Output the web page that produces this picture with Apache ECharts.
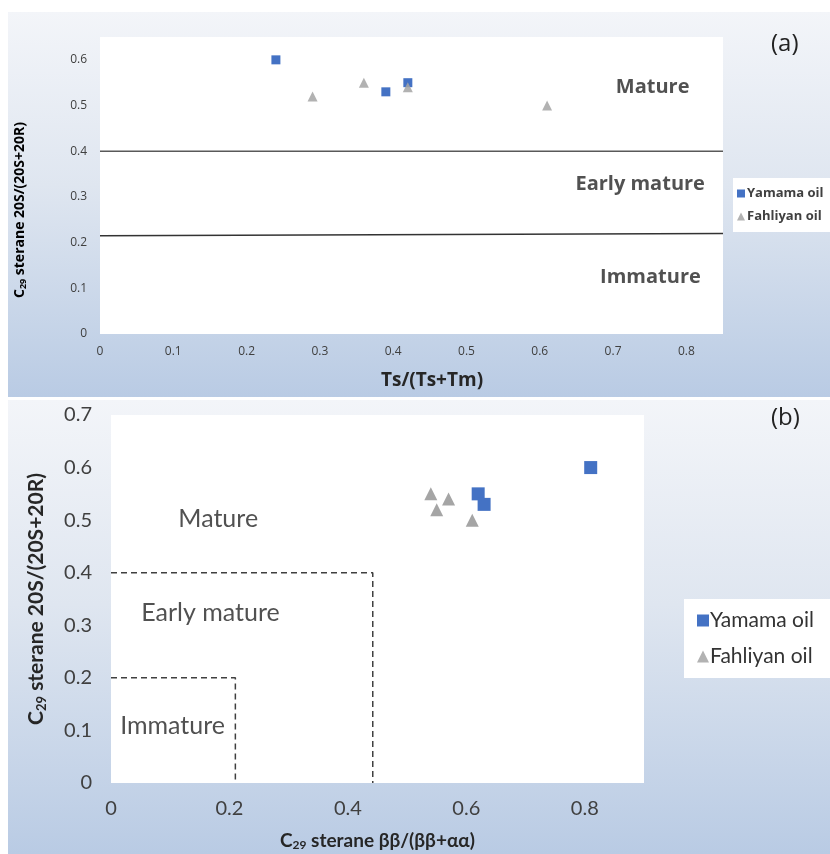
<!DOCTYPE html>
<html>
<head>
<meta charset="utf-8">
<script src="https://cdn.jsdelivr.net/npm/echarts@6/dist/echarts.min.js"></script>
<style>
  html, body { margin: 0; padding: 0; background: #ffffff; }
  #chart { width: 830px; height: 854px; }
</style>
</head>
<body>
<div id="chart"></div>
<script>
// ---- Panel (a): C29 sterane 20S/(20S+20R) vs Ts/(Ts+Tm) ----
const yamamaA = [[0.24, 0.60], [0.39, 0.53], [0.42, 0.55]];
const fahliyanA = [[0.29, 0.52], [0.36, 0.55], [0.42, 0.54], [0.61, 0.50]];
// maturity boundaries (solid lines)
const matureLineA = [[0, 0.40], [0.85, 0.40]];
const earlyLineA = [[0, 0.215], [0.85, 0.22]];
const zoneLabelsA = [
  { name: 'Mature', value: [0.754, 0.54] },
  { name: 'Early mature', value: [0.737, 0.328] },
  { name: 'Immature', value: [0.751, 0.125] }
];

// ---- Panel (b): C29 sterane 20S/(20S+20R) vs ββ/(ββ+αα) ----
const yamamaB = [[0.81, 0.60], [0.62, 0.55], [0.63, 0.53]];
const fahliyanB = [[0.54, 0.55], [0.57, 0.54], [0.55, 0.52], [0.61, 0.50]];
// maturity boundaries (dashed steps)
const earlyBoxB = [[0, 0.40], [0.442, 0.40], [0.442, 0]];
const immatureBoxB = [[0, 0.20], [0.21, 0.20], [0.21, 0]];
const zoneLabelsB = [
  { name: 'Mature', value: [0.181, 0.502] },
  { name: 'Early mature', value: [0.168, 0.324] },
  { name: 'Immature', value: [0.104, 0.108] }
];

const seriesNames = ['Yamama oil', 'Fahliyan oil'];
const BLUE = '#4472C4';
const GRAY = '#A5A5A5';
const INK = '#262626';

const chart = echarts.init(document.getElementById('chart'), null, { renderer: 'canvas' });

const panelFill = {
  type: 'linear', x: 0, y: 0, x2: 0, y2: 1,
  colorStops: [
    { offset: 0, color: '#f3f5f9' },
    { offset: 0.45, color: '#dfe6f0' },
    { offset: 1, color: '#b9cbe4' }
  ]
};

const fontA = 'Open Sans, sans-serif';
const fontB = 'Lato, sans-serif';

function zoneSeries(data, xi, yi, style) {
  return {
    type: 'scatter', xAxisIndex: xi, yAxisIndex: yi,
    symbolSize: 0, silent: true, data: data, z: 1,
    label: Object.assign({ show: true, position: 'inside', formatter: p => p.name }, style)
  };
}

const c29Rich = (font, big, small, drop) => ({
  b: { fontFamily: font, fontWeight: 'bold', fontSize: big, color: INK },
  s: { fontFamily: font, fontWeight: 'bold', fontSize: small, color: INK, verticalAlign: 'bottom', padding: [drop, 0, 0, 0] }
});

chart.setOption({
  animation: false,
  graphic: [
    { type: 'rect', z: -10, shape: { x: 8, y: 12, width: 822, height: 385 }, style: { fill: panelFill } },
    { type: 'rect', z: -10, shape: { x: 8, y: 400, width: 822, height: 454 }, style: { fill: panelFill } },
    { type: 'text', z: 10, left: 771, top: 32, style: { text: '(a)', font: '24px "Open Sans", sans-serif', fill: '#222' } },
    { type: 'text', z: 10, left: 771, top: 406, style: { text: '(b)', font: '24px "Open Sans", sans-serif', fill: '#222' } },
    // panel (a) axis titles
    {
      type: 'text', z: 10, x: 20, y: 210, rotation: Math.PI / 2,
      style: { text: '{b|C}{s|29}{b| sterane 20S/(20S+20R)}', rich: c29Rich(fontA, 14, 9, 6), align: 'center', verticalAlign: 'middle' }
    },
    {
      type: 'text', z: 10, x: 432, y: 381,
      style: { text: 'Ts/(Ts+Tm)', font: 'bold 19px "Open Sans", sans-serif', fill: INK, align: 'center', verticalAlign: 'middle' }
    }
  ],
  grid: [
    { left: 100, top: 37, width: 623, height: 297, show: true, backgroundColor: '#ffffff', borderWidth: 0 },
    { left: 111, top: 415, width: 533, height: 368, show: true, backgroundColor: '#ffffff', borderWidth: 0 }
  ],
  legend: [
    {
      data: [
        { name: seriesNames[0], icon: 'rect' },
        { name: seriesNames[1], icon: 'triangle' }
      ],
      orient: 'vertical', left: 733, top: 178,
      backgroundColor: '#ffffff', padding: [9, 20, 9, 4], itemGap: 10,
      itemWidth: 8, itemHeight: 8,
      textStyle: { fontFamily: fontA, fontWeight: 'bold', fontSize: 13, color: '#404040', padding: [0, 0, 0, -3] }
    },
    {
      data: [
        { name: seriesNames[0], icon: 'rect' },
        { name: seriesNames[1], icon: 'triangle' }
      ],
      orient: 'vertical', left: 684, top: 599,
      backgroundColor: '#ffffff', padding: [11, 30, 11, 13], itemGap: 15,
      itemWidth: 12, itemHeight: 12,
      textStyle: { fontFamily: fontB, fontSize: 21, color: '#333333', padding: [0, 0, 0, -4] }
    }
  ],
  xAxis: [
    {
      gridIndex: 0, type: 'value', min: 0, max: 0.85, interval: 0.1,
      axisLine: { show: false }, axisTick: { show: false }, splitLine: { show: false },
      axisLabel: { showMaxLabel: false, margin: 12, fontFamily: fontA, fontSize: 12, color: '#404040' }
    },
    {
      gridIndex: 1, type: 'value', min: 0, max: 0.9, interval: 0.2,
      axisLine: { show: false }, axisTick: { show: false }, splitLine: { show: false },
      axisLabel: { showMaxLabel: false, margin: 16, fontFamily: fontB, fontSize: 20, color: '#404040' },
      name: '{b|C}{s|29}{b| sterane ββ/(ββ+αα)}', nameLocation: 'middle', nameGap: 47,
      nameTextStyle: { rich: c29Rich(fontB, 19, 12, 9) }
    }
  ],
  yAxis: [
    {
      gridIndex: 0, type: 'value', min: 0, max: 0.65, interval: 0.1,
      axisLine: { show: false }, axisTick: { show: false }, splitLine: { show: false },
      axisLabel: { showMaxLabel: false, margin: 13, fontFamily: fontA, fontSize: 12, color: '#404040' }
    },
    {
      gridIndex: 1, type: 'value', min: 0, max: 0.7, interval: 0.1,
      axisLine: { show: false }, axisTick: { show: false }, splitLine: { show: false },
      axisLabel: { margin: 19, fontFamily: fontB, fontSize: 20, color: '#404040' },
      name: '{b|C}{s|29}{b| sterane 20S/(20S+20R)}', nameLocation: 'middle', nameGap: 63,
      nameTextStyle: { rich: c29Rich(fontB, 21, 13, 10) }
    }
  ],
  series: [
    { name: seriesNames[0], type: 'scatter', xAxisIndex: 0, yAxisIndex: 0, data: yamamaA, symbol: 'rect', symbolSize: 9, itemStyle: { color: BLUE, opacity: 1 }, z: 4 },
    { name: seriesNames[1], type: 'scatter', xAxisIndex: 0, yAxisIndex: 0, data: fahliyanA, symbol: 'triangle', symbolSize: 10, itemStyle: { color: GRAY, opacity: 0.85 }, z: 5 },
    { type: 'line', xAxisIndex: 0, yAxisIndex: 0, data: matureLineA, symbol: 'none', silent: true, lineStyle: { color: '#595959', width: 1.5 }, z: 2 },
    { type: 'line', xAxisIndex: 0, yAxisIndex: 0, data: earlyLineA, symbol: 'none', silent: true, lineStyle: { color: '#333333', width: 1.5 }, z: 2 },
    zoneSeries(zoneLabelsA, 0, 0, { fontFamily: fontA, fontWeight: 'bold', fontSize: 20, color: INK }),

    { name: seriesNames[0], type: 'scatter', xAxisIndex: 1, yAxisIndex: 1, data: yamamaB, symbol: 'rect', symbolSize: 13, itemStyle: { color: BLUE, opacity: 1 }, z: 4 },
    { name: seriesNames[1], type: 'scatter', xAxisIndex: 1, yAxisIndex: 1, data: fahliyanB, symbol: 'triangle', symbolSize: 13, itemStyle: { color: GRAY, opacity: 1 }, z: 5 },
    { type: 'line', xAxisIndex: 1, yAxisIndex: 1, data: earlyBoxB, symbol: 'none', silent: true, lineStyle: { color: '#404040', width: 1.5, type: [6, 4] }, z: 2 },
    { type: 'line', xAxisIndex: 1, yAxisIndex: 1, data: immatureBoxB, symbol: 'none', silent: true, lineStyle: { color: '#404040', width: 1.5, type: [6, 4] }, z: 2 },
    zoneSeries(zoneLabelsB, 1, 1, { fontFamily: fontB, fontSize: 25, color: INK })
  ]
});
</script>
</body>
</html>
